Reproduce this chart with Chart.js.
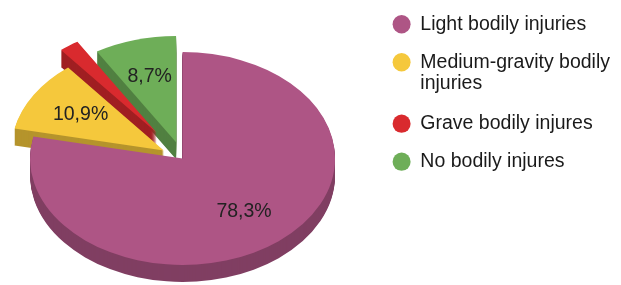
<!DOCTYPE html>
<html>
<head>
<meta charset="utf-8">
<script src="https://cdn.jsdelivr.net/npm/chart.js@4.4.1/dist/chart.umd.min.js"></script>
<style>
  html, body { margin: 0; padding: 0; background: #fff; overflow: hidden; }
  #myChart { display: block; margin: -4px 0 0 -9px; }
</style>
</head>
<body>
<canvas id="myChart" width="630" height="330"></canvas>
<script>
const labels = [
  "Light bodily injuries",
  ["Medium-gravity bodily", "injuries"],
  "Grave bodily injures",
  "No bodily injures",
];
const shares = [78.3, 10.9, 2.1, 8.7];
const colors = ["#ae5585", "#f5c83c", "#d92a2e", "#6eae58"];

// look of the fake 3d pie
const explode = [0, 22, 45, 24];
const tilt = 0.698;
const depth = 17;
const fontFamily = "'Liberation Sans', Arial, sans-serif";

const pie3d = {
  id: "pie3d",
  beforeDatasetsDraw(chart) {
    const ctx = chart.ctx;
    const arcs = chart.getDatasetMeta(0).data;
    const cx = arcs[0].x;
    const cy = arcs[0].y;

    const place = (arc, i, drop) => {
      const mid = (arc.startAngle + arc.endAngle) / 2;
      ctx.translate(cx, cy + drop);
      ctx.scale(1, tilt);
      ctx.translate(-cx + Math.cos(mid) * explode[i], -cy + Math.sin(mid) * explode[i]);
    };

    // side walls: darker copies stacked downwards
    ctx.save();
    ctx.filter = "brightness(0.74)";
    for (let d = depth; d > 0; d--) {
      arcs.forEach((arc, i) => {
        ctx.save();
        place(arc, i, d);
        arc.draw(ctx);
        ctx.restore();
      });
    }
    ctx.restore();

    // top faces
    arcs.forEach((arc, i) => {
      ctx.save();
      place(arc, i, 0);
      arc.draw(ctx);
      ctx.restore();
    });

    // percentage labels
    ctx.save();
    ctx.font = "19.5px " + fontFamily;
    ctx.fillStyle = "#222";
    ctx.textAlign = "center";
    ctx.textBaseline = "middle";
    arcs.forEach((arc, i) => {
      if (shares[i] < 5) return;
      const mid = (arc.startAngle + arc.endAngle) / 2;
      const r = arc.outerRadius * 0.64 + explode[i];
      const text = shares[i].toFixed(1).replace(".", ",") + "%";
      ctx.fillText(text, cx + Math.cos(mid) * r, cy + Math.sin(mid) * r * tilt);
    });
    ctx.restore();

    return false;
  },
};

Chart.defaults.font.family = fontFamily;

const ctx = document.getElementById("myChart").getContext("2d");

const pieChart = new Chart(ctx, {
  type: "pie",
  data: {
    labels: labels,
    datasets: [
      {
        data: shares,
        backgroundColor: colors,
        borderWidth: 0,
      },
    ],
  },
  options: {
    responsive: false,
    animation: false,
    events: [],
    radius: 152.5,
    layout: {
      padding: { left: 0, right: 1, top: 0, bottom: 5 },
    },
    plugins: {
      tooltip: { enabled: false },
      legend: {
        position: "right",
        align: "start",
        labels: {
          usePointStyle: true,
          pointStyle: "circle",
          pointStyleWidth: 18,
          boxHeight: 13,
          padding: 18.5,
          color: "#1a1a1a",
          font: { size: 19.5, lineHeight: 1.1 },
        },
      },
    },
  },
  plugins: [pie3d],
});
</script>
</body>
</html>
